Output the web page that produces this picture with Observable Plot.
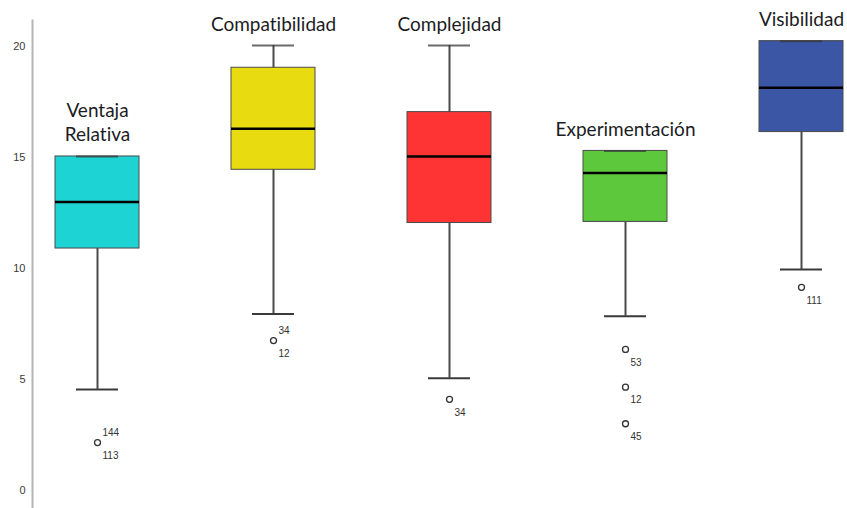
<!DOCTYPE html>
<html>
<head>
<meta charset="utf-8">
<script src="https://cdn.jsdelivr.net/npm/d3@7"></script>
<script src="https://cdn.jsdelivr.net/npm/@observablehq/plot@0.6"></script>
<style>
  html, body { margin: 0; padding: 0; background: #fff; }
  #chart svg { display: block; }
  #chart text { font-variant-ligatures: none; font-feature-settings: "liga" 0; }
</style>
</head>
<body>
<div id="chart"></div>
<script>
// ---- data ----
const categories  = ["Ventaja Relativa", "Compatibilidad", "Complejidad", "Experimentación", "Visibilidad"];
const titles      = ["Ventaja\nRelativa", "Compatibilidad", "Complejidad", "Experimentación", "Visibilidad"];
const whiskerLow  = [4.5, 7.9, 5.0, 7.8, 9.9];
const q1          = [10.85, 14.4, 12.0, 12.05, 16.1];
const median      = [12.95, 16.25, 15.0, 14.25, 18.1];
const q3          = [15.0, 19.0, 17.0, 15.25, 20.2];
const whiskerHigh = [15.0, 20.0, 20.0, 15.25, 20.2];
const boxColors   = ["#1ed3d3", "#e8dc10", "#fe3434", "#5ec83c", "#3c56a6"];

const outlierCategory = ["Ventaja Relativa", "Compatibilidad", "Complejidad", "Experimentación", "Experimentación", "Experimentación", "Visibilidad"];
const outlierValue    = [2.1, 6.7, 4.05, 6.3, 4.6, 2.95, 9.1];
const outlierIds      = [["144", "113"], ["34", "12"], ["34"], ["53"], ["12"], ["45"], ["111"]];
const yTicks          = [0, 5, 10, 15, 20];

// ---- tables built from the arrays ----
const boxes = categories.map((c, i) => ({
  cat: c, title: titles[i], lo: whiskerLow[i], q1: q1[i], med: median[i], q3: q3[i], hi: whiskerHigh[i], color: boxColors[i]
}));
const outliers = outlierCategory.map((c, i) => ({cat: c, v: outlierValue[i]}));
const idLabels = outlierCategory.flatMap((c, i) =>
  outlierIds[i].map((id, k) => ({cat: c, v: outlierValue[i], id, above: outlierIds[i].length > 1 && k === 0}))
);

const chart = Plot.plot({
  width: 847,
  height: 508,
  marginLeft: 32,
  marginRight: 0,
  marginTop: 20,
  marginBottom: 0,
  style: {fontFamily: "'Liberation Sans', Arial, sans-serif", background: "#fff"},
  x: {type: "band", domain: categories, range: [53, 845], paddingInner: 0.525, paddingOuter: 0, axis: null},
  y: {domain: [-0.87, 21.13], axis: null},
  marks: [
    Plot.frame({anchor: "left", stroke: "#b4b4b4", strokeWidth: 2}),
    Plot.axisY({ticks: yTicks, tickSize: 0, tickPadding: 7, fontSize: 11, color: "#3a3a3a", dy: 1, tickFormat: d => String(d)}),
    // whiskers
    Plot.ruleX(boxes, {x: "cat", y1: "lo", y2: "hi", stroke: "#4a4a4a", strokeWidth: 2}),
    // boxes
    Plot.barY(boxes, {x: "cat", y1: "q1", y2: "q3", fill: "color", stroke: "#4a4a4a", strokeWidth: 1}),
    // whisker caps
    Plot.tickY(boxes, {x: "cat", y: "lo", stroke: "#3a3a3a", strokeWidth: 2, insetLeft: 21, insetRight: 21}),
    Plot.tickY(boxes, {x: "cat", y: "hi", stroke: "#3a3a3a", strokeWidth: 2, insetLeft: 21, insetRight: 21, strokeOpacity: 0.75}),
    // medians
    Plot.tickY(boxes, {x: "cat", y: "med", stroke: "#000", strokeWidth: 2.5}),
    // outliers
    Plot.dot(outliers, {x: "cat", y: "v", r: 3, stroke: "#333", strokeWidth: 1.3, fill: "#fff"}),
    Plot.text(idLabels.filter(d => d.above), {x: "cat", y: "v", text: "id", textAnchor: "start", dx: 5, dy: -10, fontSize: 10, fill: "#333"}),
    Plot.text(idLabels.filter(d => !d.above), {x: "cat", y: "v", text: "id", textAnchor: "start", dx: 5, dy: 13, fontSize: 10, fill: "#333"}),
    // category titles
    Plot.text(boxes, {
      x: "cat", y: "hi", text: "title", lineAnchor: "bottom", dy: -15, lineHeight: 1.3,
      fontSize: 19, fill: "#1c1c24", fontFamily: "Lato, 'Open Sans', sans-serif"
    })
  ]
});
document.getElementById("chart").appendChild(chart);
</script>
</body>
</html>
